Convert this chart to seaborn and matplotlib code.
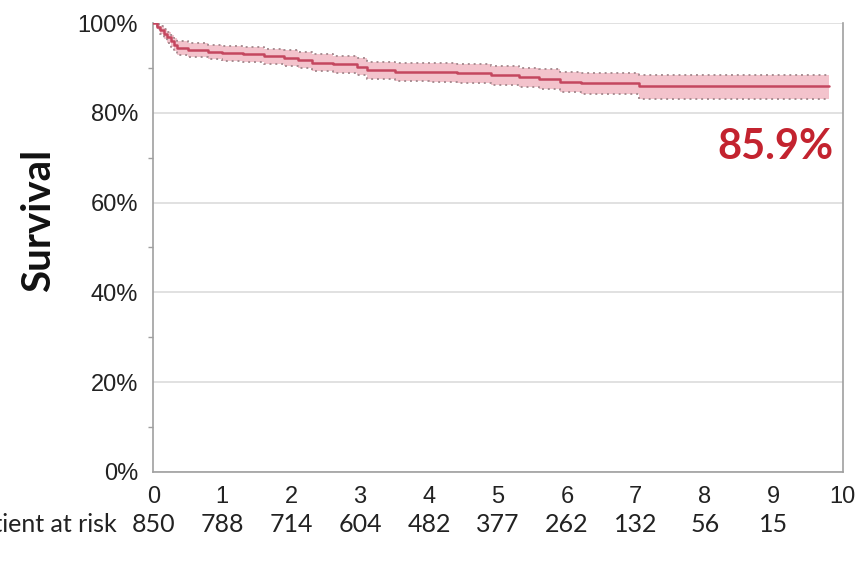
import matplotlib
matplotlib.use("Agg")
import matplotlib.pyplot as plt
import pandas as pd
import seaborn as sns
from matplotlib.ticker import FuncFormatter, MultipleLocator

# Kaplan-Meier estimate (years, % surviving)
times = [0, 0.05, 0.1, 0.15, 0.2, 0.25, 0.3, 0.35, 0.5, 0.8, 1.0, 1.3, 1.6, 1.9,
         2.1, 2.3, 2.6, 2.95, 3.1, 3.5, 4.0, 4.4, 4.9, 5.3, 5.6, 5.9, 6.2, 7.05, 9.8]
survival = [100, 99.2, 98.4, 97.6, 96.8, 96.0, 95.2, 94.4, 94.0, 93.6, 93.3, 93.0, 92.6, 92.3,
            91.8, 91.2, 90.8, 90.3, 89.5, 89.2, 89.0, 88.8, 88.4, 88.0, 87.5, 86.9, 86.6, 85.9, 85.9]
ci_upper = [100, 99.8, 99.3, 98.7, 98.0, 97.3, 96.6, 95.9, 95.5, 95.1, 94.9, 94.6, 94.2, 94.0,
            93.5, 93.0, 92.6, 92.2, 91.4, 91.2, 91.0, 90.8, 90.5, 90.1, 89.7, 89.1, 88.9, 88.4, 88.4]
ci_lower = [100, 98.6, 97.5, 96.5, 95.6, 94.7, 93.8, 92.8, 92.4, 92.0, 91.6, 91.3, 90.9, 90.5,
            90.0, 89.4, 88.9, 88.4, 87.5, 87.2, 86.9, 86.7, 86.2, 85.8, 85.2, 84.6, 84.2, 83.1, 83.1]

risk_years = [0, 1, 2, 3, 4, 5, 6, 7, 8, 9]
at_risk = [850, 788, 714, 604, 482, 377, 262, 132, 56, 15]
final_label = "85.9%"

df = pd.DataFrame({"t": times, "s": survival, "lo": ci_lower, "hi": ci_upper})

sns.set_theme(style="white")
plt.rcParams["font.family"] = ["Liberation Sans", "DejaVu Sans"]

fig = plt.figure(figsize=(8.66, 5.63), dpi=100)
ax = fig.add_axes([0.177, 0.162, 0.796, 0.797])

line_col = "#c4475f"
band_col = "#f3c3cc"

ax.fill_between(df["t"], df["lo"], df["hi"], step="post", color=band_col, lw=0, zorder=1)
sns.lineplot(data=df, x="t", y="hi", drawstyle="steps-post", color="#a88d92",
             lw=1.4, ls=(0, (1, 2)), ax=ax, zorder=2)
sns.lineplot(data=df, x="t", y="lo", drawstyle="steps-post", color="#a88d92",
             lw=1.4, ls=(0, (1, 2)), ax=ax, zorder=2)
sns.lineplot(data=df, x="t", y="s", drawstyle="steps-post", color=line_col,
             lw=1.8, ax=ax, zorder=3)

ax.set_xlim(0, 10)
ax.set_ylim(0, 100)
ax.xaxis.set_major_locator(MultipleLocator(1))
ax.yaxis.set_major_locator(MultipleLocator(20))
ax.yaxis.set_minor_locator(MultipleLocator(10))
ax.yaxis.set_major_formatter(FuncFormatter(lambda v, _: f"{v:.0f}%"))

ax.grid(axis="y", which="major", color="#dcdcdc", lw=1.2)
ax.set_axisbelow(True)
for side in ["left", "bottom", "right"]:
    ax.spines[side].set_color("#a0a0a0")
    ax.spines[side].set_linewidth(1.2)
ax.spines["top"].set_visible(False)

ax.tick_params(axis="both", which="major", direction="out", length=7, width=1,
               color="#a0a0a0", labelsize=17, labelcolor="#222222")
ax.tick_params(axis="y", which="minor", direction="out", length=3.5, width=1,
               color="#a0a0a0", left=True)
ax.tick_params(axis="y", pad=4)
ax.tick_params(axis="x", pad=3)

ax.set_xlabel("")
ax.set_ylabel("Survival", fontsize=29, fontweight="bold", family=["Lato", "DejaVu Sans"],
              color="#111111")
ax.yaxis.set_label_coords(-0.139, 0.56)

ax.text(9.87, 85.9 - 13.5, final_label, ha="right", va="center", fontsize=30,
        fontweight="bold", color="#c3232f", family=["Lato", "DejaVu Sans"])

# number-at-risk row under the axis
for yr, n in zip(risk_years, at_risk):
    ax.annotate(str(n), xy=(yr, 0), xycoords=("data", "axes fraction"),
                xytext=(0, -38), textcoords="offset points", ha="center", va="center",
                fontsize=18, family=["Lato", "DejaVu Sans"], color="#222222")
ax.annotate("Patient at risk", xy=(0, 0), xycoords="axes fraction",
            xytext=(-26, -38), textcoords="offset points", ha="right", va="center",
            fontsize=18, family=["Lato", "DejaVu Sans"], color="#222222")

fig.savefig("out.png", dpi=100)
